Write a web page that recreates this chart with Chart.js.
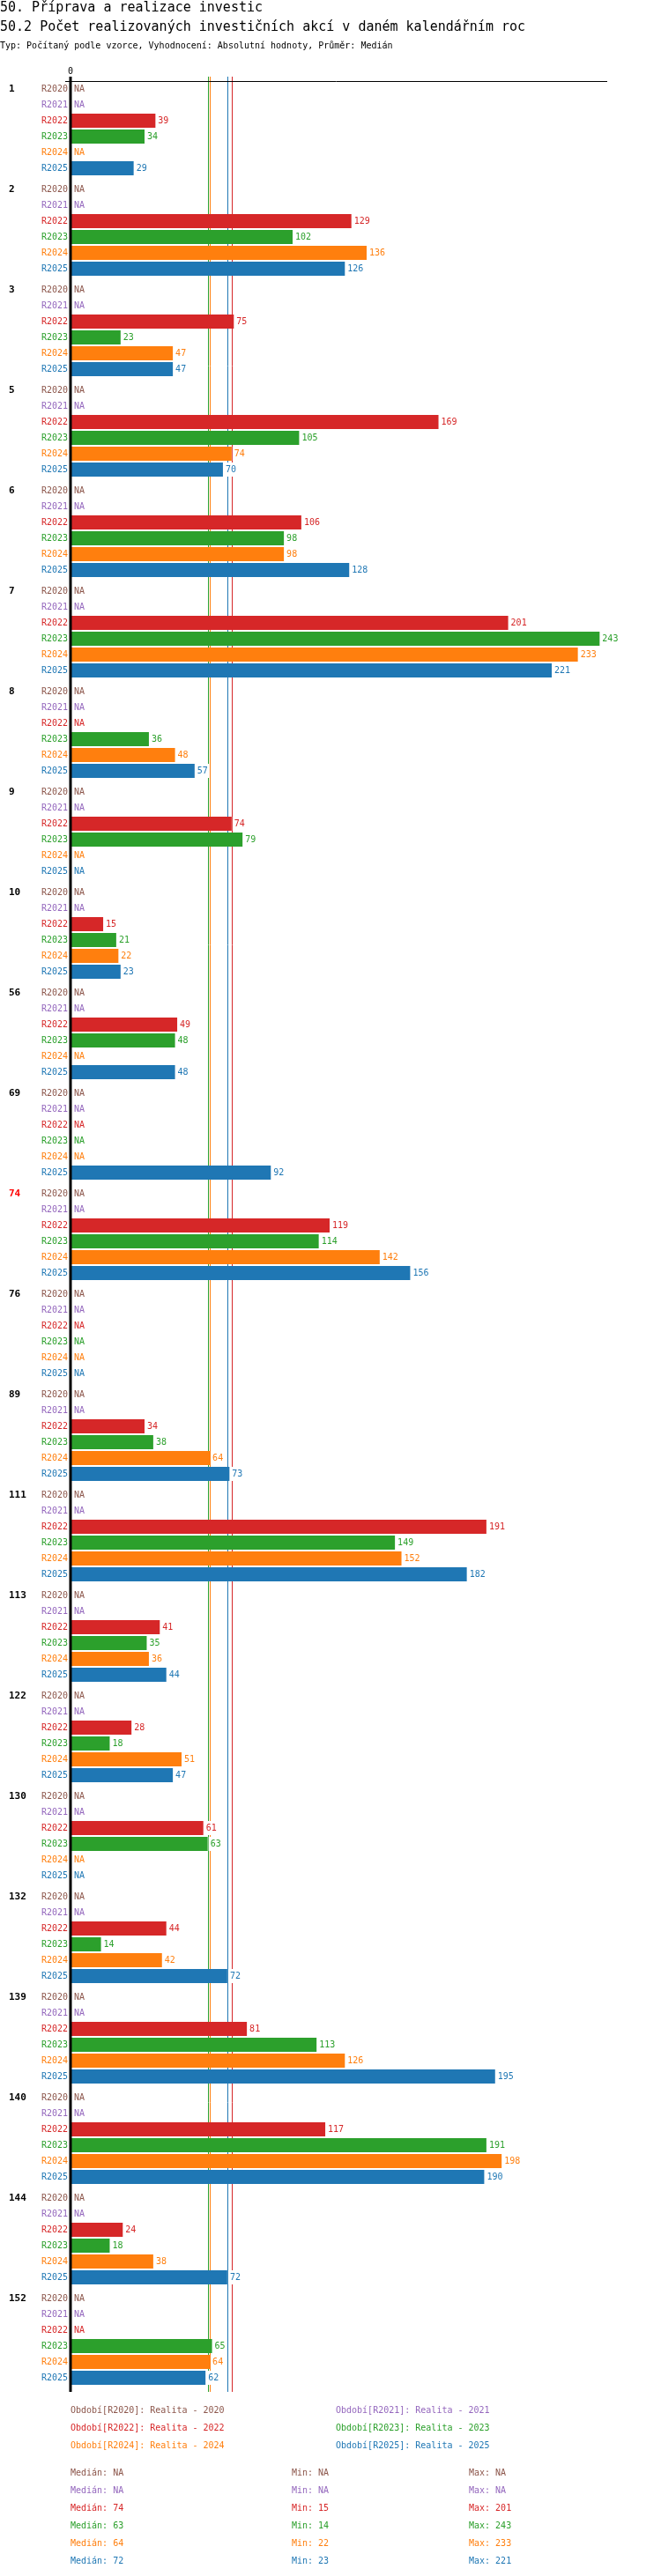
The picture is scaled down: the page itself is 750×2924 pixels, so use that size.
<!DOCTYPE html>
<html>
<head>
<meta charset="utf-8">
<style>
    html, body { margin: 0; padding: 0; background: #fff; }
    canvas { display: block; }
</style>
</head>
<body>
<div style="width:750px;height:2924px">
    <canvas id="invest-chart" width="750" height="2924"></canvas>
</div>

<script src="https://cdn.jsdelivr.net/npm/chart.js"></script>

<script>
    const groups = ['1', '2', '3', '5', '6', '7', '8', '9', '10', '56', '69', '74', '76', '89', '111', '113', '122', '130', '132', '139', '140', '144', '152'];
    const highlightGroup = '74';

    const periods = ['R2020', 'R2021', 'R2022', 'R2023', 'R2024', 'R2025'];
    const periodNames = ['Realita - 2020', 'Realita - 2021', 'Realita - 2022', 'Realita - 2023', 'Realita - 2024', 'Realita - 2025'];
    const colors = ['#8c564b', '#9467bd', '#d62728', '#2ca02c', '#ff7f0e', '#1f77b4'];

    const r2020 = [null, null, null, null, null, null, null, null, null, null, null, null, null, null, null, null, null, null, null, null, null, null, null];
    const r2021 = [null, null, null, null, null, null, null, null, null, null, null, null, null, null, null, null, null, null, null, null, null, null, null];
    const r2022 = [39, 129, 75, 169, 106, 201, null, 74, 15, 49, null, 119, null, 34, 191, 41, 28, 61, 44, 81, 117, 24, null];
    const r2023 = [34, 102, 23, 105, 98, 243, 36, 79, 21, 48, null, 114, null, 38, 149, 35, 18, 63, 14, 113, 191, 18, 65];
    const r2024 = [null, 136, 47, 74, 98, 233, 48, null, 22, null, null, 142, null, 64, 152, 36, 51, null, 42, 126, 198, 38, 64];
    const r2025 = [29, 126, 47, 70, 128, 221, 57, null, 23, 48, 92, 156, null, 73, 182, 44, 47, null, 72, 195, 190, 72, 62];
    const series = [r2020, r2021, r2022, r2023, r2024, r2025];

    const medians = [null, null, 74, 63, 64, 72];
    const mins = [null, null, 15, 14, 22, 23];
    const maxs = [null, null, 201, 243, 233, 221];

    const titleText = '50. Příprava a realizace investic';
    const subtitleText = '50.2 Počet realizovaných investičních akcí v daném kalendářním roc';
    const infoText = 'Typ: Počítaný podle vzorce, Vyhodnocení: Absolutní hodnoty, Průměr: Medián';

    const MONO = '"DejaVu Sans Mono", "Liberation Mono", monospace';
    const fmt = (v) => (v === null || v === undefined) ? 'NA' : String(v);

    const overlay = {
        id: 'overlay',
        beforeDatasetsDraw(chart) {
            const { ctx, chartArea } = chart;
            const x = chart.scales.x;
            ctx.save();
            ctx.lineWidth = 1;
            medians.forEach((m, i) => {
                if (m === null) return;
                const px = Math.round(x.getPixelForValue(m)) + 0.5;
                ctx.strokeStyle = colors[i];
                ctx.beginPath();
                ctx.moveTo(px, chartArea.top - 2);
                ctx.lineTo(px, chartArea.bottom + 4);
                ctx.stroke();
            });
            ctx.restore();
        },
        afterDatasetsDraw(chart) {
            const { ctx, chartArea } = chart;
            const x = chart.scales.x;
            const zero = x.getPixelForValue(0);
            ctx.save();

            // top axis line + zero tick
            ctx.strokeStyle = '#000';
            ctx.lineWidth = 1;
            ctx.beginPath();
            ctx.moveTo(zero - 6, chartArea.top + 3.5);
            ctx.lineTo(chartArea.right, chartArea.top + 3.5);
            ctx.stroke();

            ctx.fillStyle = '#000';
            ctx.font = '10px ' + MONO;
            ctx.textAlign = 'center';
            ctx.textBaseline = 'middle';
            ctx.fillText('0', zero, chartArea.top - 8);

            // zero line
            ctx.lineWidth = 3;
            ctx.beginPath();
            ctx.moveTo(zero, chartArea.top - 2);
            ctx.lineTo(zero, chartArea.bottom + 4);
            ctx.stroke();

            // rows
            chart.data.datasets.forEach((ds, di) => {
                const meta = chart.getDatasetMeta(di);
                meta.data.forEach((bar, i) => {
                    const y = bar.y;
                    const v = ds.data[i];
                    ctx.font = '10px ' + MONO;
                    ctx.textBaseline = 'middle';
                    ctx.fillStyle = colors[di];
                    ctx.textAlign = 'right';
                    ctx.fillText(periods[di], chartArea.left - 3, y);

                    ctx.textAlign = 'left';
                    if (v === null) {
                        ctx.fillText('NA', chartArea.left + 4, y);
                    } else {
                        const t = fmt(v);
                        const w = ctx.measureText(t).width;
                        ctx.fillStyle = '#fff';
                        ctx.fillRect(bar.x + 1, y - 8, w + 4, 16);
                        ctx.fillStyle = colors[di];
                        ctx.fillText(t, bar.x + 3, y);
                    }

                    if (di === 0) {
                        ctx.font = 'bold 11px ' + MONO;
                        ctx.fillStyle = groups[i] === highlightGroup ? '#ff0000' : '#000';
                        ctx.fillText(groups[i], 10, y);
                    }
                });
            });
            ctx.restore();
        },
        afterDraw(chart) {
            const { ctx, chartArea } = chart;
            ctx.save();
            ctx.textBaseline = 'middle';
            ctx.textAlign = 'left';
            ctx.fillStyle = '#000';
            ctx.font = '15px ' + MONO;
            ctx.fillText(titleText, 0, 9);
            ctx.fillText(subtitleText, 0, 31);
            ctx.font = '10px ' + MONO;
            ctx.fillText(infoText, 0, 52);

            // legend of periods
            const legTop = chartArea.bottom + 25;
            periods.forEach((p, i) => {
                const col = i % 2;
                const row = Math.floor(i / 2);
                ctx.fillStyle = colors[i];
                ctx.fillText('Období[' + p + ']: ' + periodNames[i], col === 0 ? 80 : 381, legTop + row * 20);
            });

            // stats
            const statTop = chartArea.bottom + 96;
            periods.forEach((p, i) => {
                const y = statTop + i * 20;
                ctx.fillStyle = colors[i];
                ctx.fillText('Medián: ' + fmt(medians[i]), 80, y);
                ctx.fillText('Min: ' + fmt(mins[i]), 331, y);
                ctx.fillText('Max: ' + fmt(maxs[i]), 532, y);
            });
            ctx.restore();
        }
    };

    const ctx = document.getElementById('invest-chart');

    new Chart(ctx, {
        type: 'bar',
        data: {
            labels: groups,
            datasets: series.map((data, i) => ({
                label: periods[i],
                data,
                backgroundColor: colors[i],
                borderWidth: 0,
                categoryPercentage: 108 / 114,
                barPercentage: 16 / 18,
            }))
        },
        options: {
            indexAxis: 'y',
            responsive: false,
            animation: false,
            devicePixelRatio: 1,
            layout: {
                padding: { left: 80, right: 61, top: 89, bottom: 213 }
            },
            plugins: {
                legend: { display: false },
                tooltip: { enabled: false },
            },
            scales: {
                x: { display: false, min: 0, max: 246.5 },
                y: { display: false },
            }
        },
        plugins: [overlay]
    });
</script>
</body>
</html>
